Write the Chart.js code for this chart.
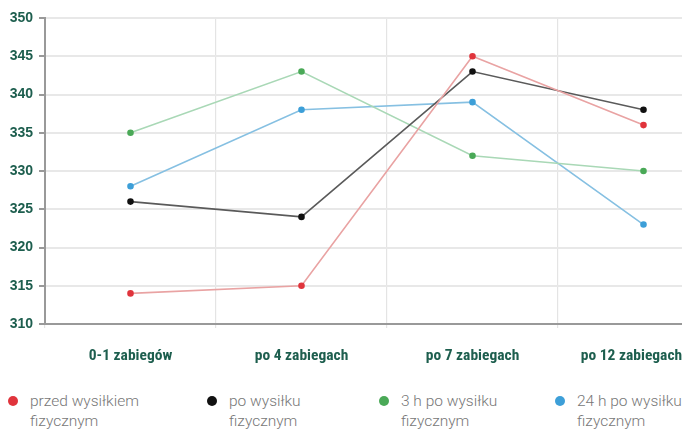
<!DOCTYPE html>
<html><head><meta charset="utf-8">
<script src="https://cdn.jsdelivr.net/npm/chart.js@4"></script>
<style>
html,body{margin:0;padding:0;background:#fff;overflow:hidden;width:682px;height:429px;}
#wrap{position:absolute;left:0;top:0;width:682px;height:380px;overflow:hidden;}
#box{position:absolute;left:0;top:0;width:740px;height:371px;}
.leg{position:absolute;font-family:Roboto,"Liberation Sans",sans-serif;font-weight:300;font-size:15.5px;color:#777;line-height:20px;}
.dot{position:absolute;width:10px;height:10px;border-radius:50%;}
</style></head>
<body>
<div id="wrap"><div id="box"><canvas id="c"></canvas></div></div>
<div id="legend"></div>
<script>
const categories = ["0-1 zabiegów","po 4 zabiegach","po 7 zabiegach","po 12 zabiegach"];
const seriesNames = [["przed wysiłkiem","fizycznym"],["po wysiłku","fizycznym"],["3 h po wysiłku","fizycznym"],["24 h po wysiłku","fizycznym"]];
const przed = [314, 315, 345, 336];
const po = [326, 324, 343, 338];
const po3h = [335, 343, 332, 330];
const po24h = [328, 338, 339, 323];
const yTicks = [310,315,320,325,330,335,340,345,350];

const lineColors = ["#e9a3a3","#5a5a5a","#a9d8b6","#86c0e2"];
const dotColors = ["#e0343c","#111111","#4aa957","#3d9fd8"];
const legendX = [13,212,384,560];
const values = [przed, po, po3h, po24h];

const shiftLast = {
  id:'shiftLast',
  beforeDraw(chart){
    const s=chart.scales.x;
    const items=s.getLabelItems(chart.chartArea);
    const last=items[items.length-1];
    if(last && !last._shifted){ last.options.translation[0]-=12; last._shifted=true; }
  }
};

const ctx = document.getElementById('c');
new Chart(ctx,{
  type:'line',
  data:{labels:categories,datasets:values.map((v,i)=>({
    label:seriesNames[i].join(' '),data:v,borderColor:lineColors[i],backgroundColor:dotColors[i],
    pointBackgroundColor:dotColors[i],pointBorderColor:dotColors[i],pointRadius:2.5,borderWidth:1.6,tension:0,fill:false
  }))},
  options:{
    responsive:true,maintainAspectRatio:false,animation:false,
    layout:{padding:{top:18,right:11,left:0,bottom:0}},
    plugins:{legend:{display:false},tooltip:{enabled:false}},
    scales:{
      x:{offset:true,
        grid:{offset:true,color:'#e4e4e4',lineWidth:1.2,drawTicks:true,tickLength:4},
        border:{color:'#999',width:2},
        ticks:{color:'#1d5e4e',padding:19,font:{family:'"Liberation Sans Narrow","Roboto Condensed",Roboto,sans-serif',weight:'bold',size:15.5}},
        afterFit(s){s.height=47;}
      },
      y:{min:310,max:350,
        afterBuildTicks(s){s.ticks=yTicks.map(v=>({value:v}));},
        grid:{color:'#e8e8e8',lineWidth:2,tickLength:6,tickColor:'#999'},
        border:{color:'#999',width:2},
        ticks:{color:'#1d5e4e',padding:6,font:{family:'"Liberation Sans",Arial,sans-serif',weight:'bold',size:14}},
        afterFit(s){s.width=45;}
      }
    }
  },
  plugins:[shiftLast]
});
const lg=document.getElementById('legend');
seriesNames.forEach((n,i)=>{
  const d=document.createElement('div');d.className='dot';d.style.background=dotColors[i];
  d.style.left=(legendX[i]-5)+'px';d.style.top=(401-5)+'px';lg.appendChild(d);
  const t=document.createElement('div');t.className='leg';t.style.left=(legendX[i]+17)+'px';t.style.top='391px';
  t.innerHTML=n[0]+'<br>'+n[1];lg.appendChild(t);
});
</script>
</body></html>
